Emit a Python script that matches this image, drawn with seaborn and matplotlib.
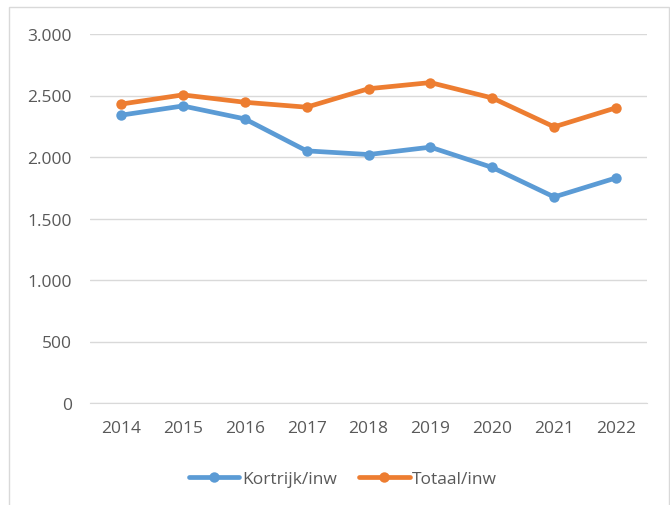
import pandas as pd
import numpy as np
import matplotlib
matplotlib.use('Agg')
import matplotlib.pyplot as plt
from matplotlib.patches import Rectangle
import seaborn as sns

years = ['2014', '2015', '2016', '2017', '2018', '2019', '2020', '2021', '2022']
kortrijk = [2340, 2415, 2310, 2050, 2020, 2080, 1915, 1675, 1830]
totaal = [2430, 2505, 2445, 2405, 2555, 2605, 2480, 2245, 2400]
series_names = ['Kortrijk/inw', 'Totaal/inw']
colors = ['#5B9BD5', '#ED7D31']

df = pd.DataFrame({
    'jaar': years * 2,
    'waarde': kortrijk + totaal,
    'reeks': [series_names[0]] * len(years) + [series_names[1]] * len(years),
})

sns.set_style('white')
plt.rcParams['font.family'] = ['Open Sans', 'DejaVu Sans']

fig = plt.figure(figsize=(6.7, 5.06), dpi=100)
ax = fig.add_axes([90 / 670, 1 - 404 / 506, 557 / 670, 369 / 506])

sns.lineplot(data=df, x='jaar', y='waarde', hue='reeks', palette=colors,
             marker='o', markersize=7.5, markeredgewidth=0, linewidth=3.4,
             sort=False, ax=ax)

ax.set_xlim(-0.5, len(years) - 0.5)
ax.set_ylim(0, 3000)
ax.set_yticks(np.arange(0, 3001, 500))
ax.set_yticklabels(['0', '500', '1.000', '1.500', '2.000', '2.500', '3.000'])
ax.yaxis.grid(True, color='#d9d9d9', linewidth=1)
ax.set_axisbelow(True)
for s in ax.spines.values():
    s.set_visible(False)
ax.spines['bottom'].set_visible(True)
ax.spines['bottom'].set_color('#d9d9d9')
ax.tick_params(axis='both', length=0, labelsize=12.5, labelcolor='#595959')
ax.tick_params(axis='y', pad=13)
ax.tick_params(axis='x', pad=12)
ax.set_xlabel('')
ax.set_ylabel('')

leg = ax.legend(loc='center', bbox_to_anchor=(343 / 670, 1 - 480 / 506),
                bbox_transform=fig.transFigure, ncol=2, frameon=False,
                fontsize=12.5, handlelength=2.9, columnspacing=1.3,
                handletextpad=0.15)
for t in leg.get_texts():
    t.set_color('#595959')

fig.patches.append(Rectangle((9 / 670, -0.05), 660 / 670, 1.05 - 8 / 506,
                             transform=fig.transFigure, fill=False,
                             edgecolor='#d9d9d9', linewidth=1))

fig.savefig('out.png', dpi=100)
